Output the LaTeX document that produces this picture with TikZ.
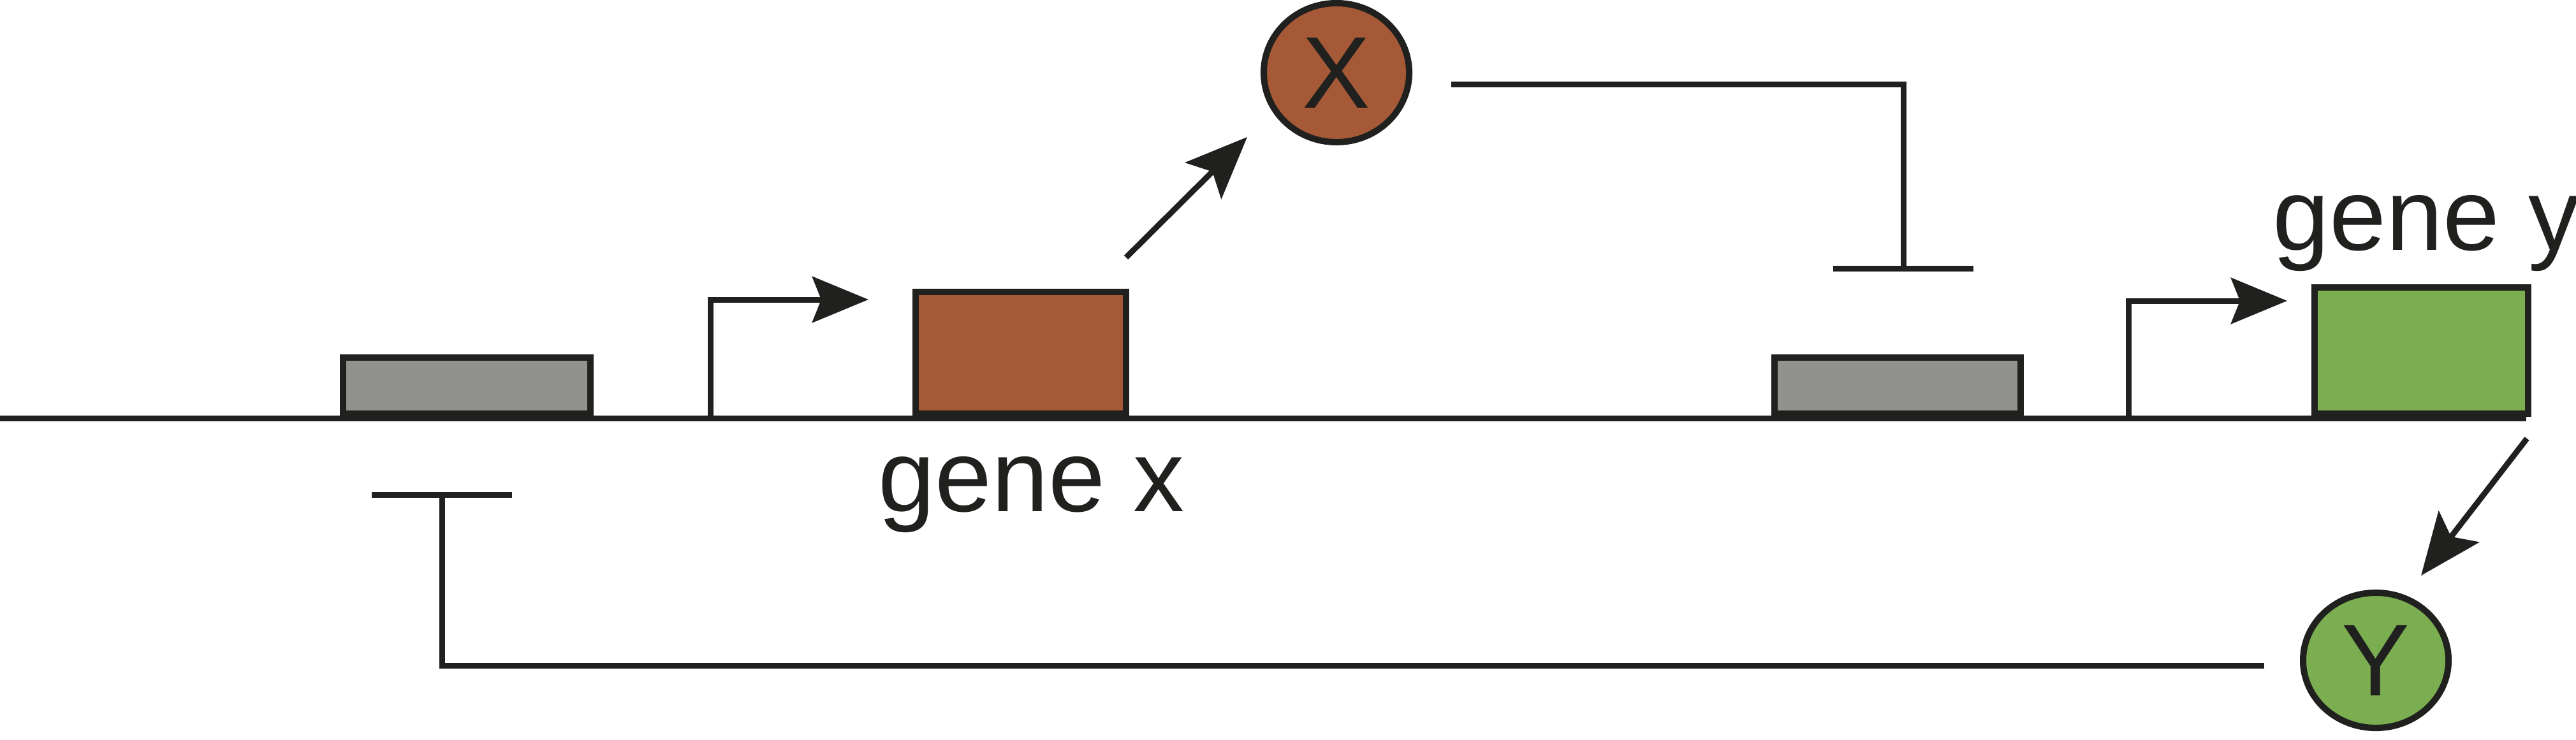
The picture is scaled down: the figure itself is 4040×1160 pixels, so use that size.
\documentclass[tikz,border=0pt]{standalone}
\usepackage{fontspec}
\setmainfont{Liberation Sans}
\usetikzlibrary{arrows.meta,shapes.geometric}
\definecolor{ink}{RGB}{32,32,30}
\definecolor{geneorange}{RGB}{166,89,54}
\definecolor{genegreen}{RGB}{122,174,80}
\definecolor{genegray}{RGB}{145,145,143}
\newcommand\lblfont{\fontsize{45.5pt}{50pt}\selectfont}
\begin{document}
\begin{tikzpicture}[x=0.01cm, y=-0.01cm,
  wire/.style={draw=ink, line width=0.09cm},
  genebox/.style={draw=ink, line width=0.1cm, rectangle, inner sep=0pt},
  protein/.style={draw=ink, line width=0.1cm, ellipse, inner sep=0pt, text=ink, font=\lblfont},
  lbl/.style={text=ink, font=\lblfont, inner sep=0pt},
  act/.style={-{Stealth[length=0.97cm, width=0.8cm, inset=0.2cm]}},
  prom/.style={-{Stealth[length=0.88cm, width=0.72cm, inset=0.14cm]}},
  rep/.style={-{Bar[width=2.2cm]}}]
\useasboundingbox (0,0) rectangle (4040,1160);

% DNA strand
\coordinate (dnaL) at (0,656);
\coordinate (dnaR) at (3962,656);
\draw[wire] (dnaL) -- (dnaR);

% operators and genes
\node[genebox, fill=genegray, minimum width=3.88cm, minimum height=0.88cm] (op1) at (732,605) {};
\node[genebox, fill=geneorange, minimum width=3.30cm, minimum height=1.91cm] (gx) at (1601,553.5) {};
\node[genebox, fill=genegray, minimum width=3.86cm, minimum height=0.88cm] (op2) at (2976,605) {};
\node[genebox, fill=genegreen, minimum width=3.35cm, minimum height=1.98cm] (gy) at (3797.5,550) {};

% labels
\node[lbl, anchor=base] (gxl) at (1618,802) {gene x};
\node[lbl, anchor=base] (gyl) at (3805,392) {gene y};

% proteins
\node[protein, fill=geneorange, minimum width=2.28cm, minimum height=2.18cm] (X) at (2096,114) {X};
\node[protein, fill=genegreen, minimum width=2.28cm, minimum height=2.12cm] (Y) at (3726,1036) {Y};

% promoters
\coordinate (p1) at (1114,652);
\coordinate (p1tip) at (1362,470);
\draw[wire, prom] (p1) |- (p1tip);
\coordinate (p2) at (3338,652);
\coordinate (p2tip) at (3587,472);
\draw[wire, prom] (p2) |- (p2tip);

% expression arrows
\coordinate (xa0) at (1766,404);
\coordinate (xa1) at (1956,215);
\draw[wire, act] (xa0) -- (xa1);
\coordinate (ya0) at (3963,688);
\coordinate (ya1) at (3797,903);
\draw[wire, act] (ya0) -- (ya1);

% repression
\coordinate (xr0) at (2276,132);
\coordinate (xr1) at (2985,426);
\draw[wire, rep] (xr0) -| (xr1);
\coordinate (yr0) at (3551,1044);
\coordinate (yr1) at (693,772);
\draw[wire, rep] (yr0) -| (yr1);
\end{tikzpicture}
\end{document}
